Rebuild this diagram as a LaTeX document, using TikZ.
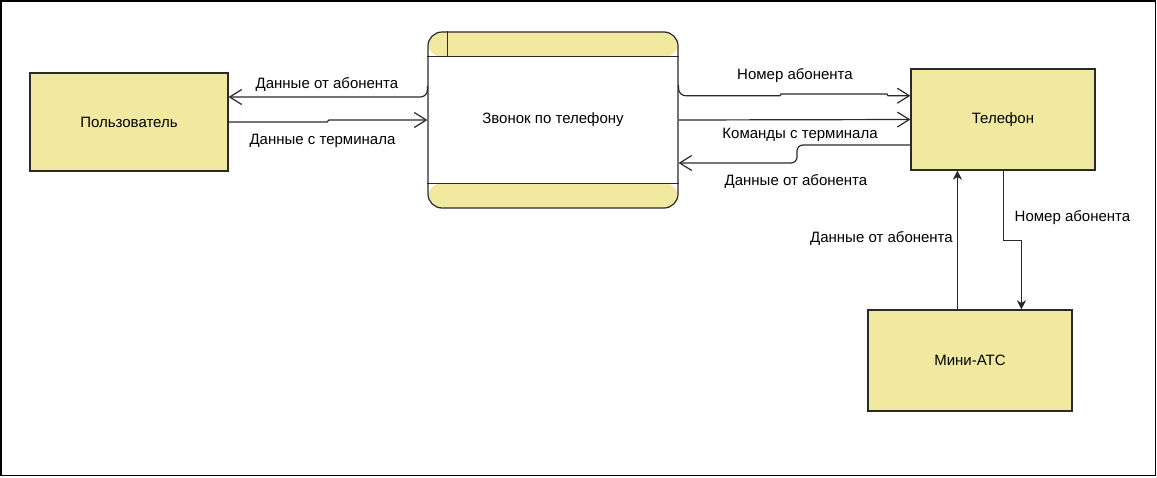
\documentclass[tikz,border=0pt]{standalone}
\usepackage{fontspec}
\setmainfont{Liberation Sans}
\usetikzlibrary{arrows.meta,calc}
\definecolor{boxfill}{HTML}{F2E9A1}
\definecolor{boxline}{HTML}{2A2A2A}
\begin{document}
\begin{tikzpicture}[x=1pt,y=-1pt,
  every node/.style={font=\fontsize{15}{17}\selectfont, text=black},
  ent/.style={draw=boxline, fill=boxfill, line width=1.2pt, inner sep=0pt},
  conn/.style={draw=boxline, line width=1.2pt},
  oarrow/.style={conn, -{Straight Barb[length=12pt,width=15pt,line width=1.2pt]}},
  farrow/.style={conn, -{Stealth[length=9pt,width=9pt,inset=2.5pt]}},
  lbl/.style={inner sep=0pt}
]
\useasboundingbox (0,0) rectangle (1157,477);
\draw[line width=1.4pt, black] (1,1) rectangle (1155.5,475.5);

% entities
\node[ent, minimum width=198pt, minimum height=98pt] (user) at (129,122) {Пользователь};
\node[ent, minimum width=184pt, minimum height=101pt] (tel) at (1003,119.5) {Телефон};
\node[ent, minimum width=204pt, minimum height=101pt] (ats) at (970,360.5) {Мини-АТС};

% process
\node[draw=boxline, line width=1.2pt, fill=white, rounded corners=14pt,
      minimum width=250pt, minimum height=176pt, inner sep=0pt,
      path picture={
        \fill[boxfill] (path picture bounding box.north west) rectangle ([yshift=-25pt]path picture bounding box.north east);
        \fill[boxfill] (path picture bounding box.south west) rectangle ([yshift=25pt]path picture bounding box.south east);
      }] (proc) at (553,120) {Звонок по телефону};
\draw[conn] ($(proc.north west)+(0,25)$) -- ($(proc.north east)+(0,25)$);
\draw[conn] ($(proc.south west)+(0,-25)$) -- ($(proc.south east)+(0,-25)$);
\draw[conn] ($(proc.north west)+(20,0)$) -- ($(proc.north west)+(20,25)$);

% connectors
\draw[oarrow, rounded corners=7pt] ($(proc.west)+(0,-34)$) |- ($(user.east)+(0,-25)$);
\draw[oarrow] (user.east) -- (327,122) -- (329,120) -- (proc.west);
\draw[oarrow, rounded corners=7pt] ($(proc.east)+(0,-35)$) |- (740,95.7) [sharp corners] -- (780,95.7) -- (781,94) -- (887,94) -- (888,95.7) -- ($(tel.west)+(0,-23.8)$);
\draw[oarrow] (proc.east) -- (tel.west);
\draw[oarrow, rounded corners=6pt] ($(tel.west)+(0,25.5)$) -- (797,145) -- (797,163) -- ($(proc.east)+(0,43)$);
\draw[farrow] ($(ats.north west)+(90,0)$) -- ($(tel.south west)+(47,0)$);
\draw[farrow] ($(tel.south west)+(93,0)$) -- ++(0,70) -| ($(ats.north west)+(154,0)$);

% labels
\node[lbl] (l1) at (327,84) {Данные от абонента};
\node[lbl] (l2) at (322.5,141) {Данные с терминала};
\node[lbl] (l3) at (795,75.5) {Номер абонента};
\node[lbl] (l4) at (800,134.5) {Команды с терминала};
\node[lbl] (l5) at (796,181.5) {Данные от абонента};
\node[lbl] (l6) at (1072.5,217.5) {Номер абонента};
\node[lbl] (l7) at (881.5,238) {Данные от абонента};
\end{tikzpicture}
\end{document}
